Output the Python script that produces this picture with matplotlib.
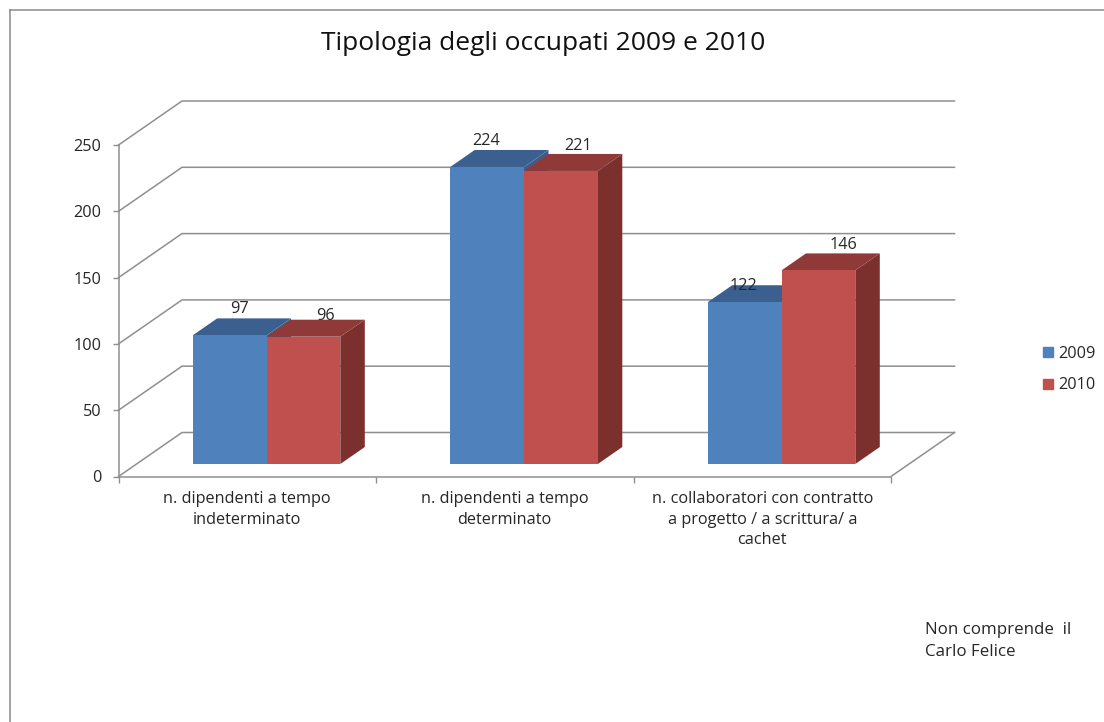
import matplotlib
matplotlib.use("Agg")
import matplotlib.pyplot as plt
from matplotlib.lines import Line2D
from matplotlib.patches import Polygon

plt.rcParams['font.family'] = ['Open Sans', 'DejaVu Sans']

categories = ["n. dipendenti a tempo\nindeterminato",
              "n. dipendenti a tempo\ndeterminato",
              "n. collaboratori con contratto\na progetto / a scrittura/ a\ncachet"]
values_2009 = [97, 224, 122]
values_2010 = [96, 221, 146]
series_names = ["2009", "2010"]
y_ticks = [0, 50, 100, 150, 200, 250]
title = "Tipologia degli occupati 2009 e 2010"
note = "Non comprende  il\nCarlo Felice"

W, H = 1104, 722
GRID = "#8f8f8f"
TEXT = "#262626"
SMALL = 11.7
front_colors = ["#4f81bd", "#c0504d"]
top_colors = ["#3b6090", "#8f3a38"]
side_colors = ["#3a5f8e", "#7b302e"]

fig = plt.figure(figsize=(W / 100, H / 100), dpi=100, facecolor="white")
left, right, top, bottom = 118.5, 891.0, 145.0, 476.5
ax = fig.add_axes([left / W, 1 - bottom / H, (right - left) / W, (bottom - top) / H])
ax.set_xlim(0, 3)
ax.set_ylim(0, 250)
ax.patch.set_visible(False)

px_x = 3 / (right - left)
px_y = 250 / (bottom - top)

# depth of the walls and of the bars, in pixels
wall_dx, wall_dy = 63.5 * px_x, 44.0 * px_y
bar_dx, bar_dy = 24.5 * px_x, 17.0 * px_y
bar_start, bar_w, bar_base = 74.2 * px_x, 73.8 * px_x, 12.5 * px_y

# walls
for t in y_ticks:
    ax.plot([0, wall_dx, 3 + wall_dx], [t, t + wall_dy, t + wall_dy],
            color=GRID, lw=1.1, clip_on=False, zorder=1)
ax.plot([3, 3 + wall_dx], [0, wall_dy], color=GRID, lw=1.1, clip_on=False, zorder=1)

# bars
label_offsets = [[(10, 26.5), (22, 20.5)], [(-1, 26), (17, 25)], [(-1, 16.5), (25, 25.5)]]
for s, vals in enumerate([values_2009, values_2010]):
    z = 3 + s
    for i, v in enumerate(vals):
        x0 = i + bar_start + s * bar_w
        x1 = x0 + bar_w
        y0 = bar_base
        y1 = bar_base + v
        ax.add_patch(Polygon([(x1, y0), (x1 + bar_dx, y0 + bar_dy), (x1 + bar_dx, y1 + bar_dy), (x1, y1)],
                             fc=side_colors[s], ec="none", clip_on=False, zorder=z))
        ax.add_patch(Polygon([(x0, y1), (x1, y1), (x1 + bar_dx, y1 + bar_dy), (x0 + bar_dx, y1 + bar_dy)],
                             fc=top_colors[s], ec="none", clip_on=False, zorder=z))
        ax.bar(x0, v, width=bar_w, bottom=y0, align="edge", color=front_colors[s],
               zorder=z, label=series_names[s] if i == 0 else None)
        ox, oy = label_offsets[i][s]
        ax.annotate(str(v), xy=((x0 + x1) / 2, y1), xytext=(ox * 0.72, oy * 0.72),
                    textcoords="offset points", ha="center", va="center",
                    fontsize=SMALL, color=TEXT, zorder=10, annotation_clip=False)

# axes
for k in ("top", "right"):
    ax.spines[k].set_visible(False)
for k in ("left", "bottom"):
    ax.spines[k].set_color(GRID)
    ax.spines[k].set_linewidth(1.1)
    ax.spines[k].set_zorder(2)
ax.set_yticks(y_ticks)
ax.tick_params(axis="y", colors=GRID, length=4.5, width=1, labelsize=SMALL,
               labelcolor=TEXT, pad=8)
ax.set_xticks([0, 1, 2, 3])
ax.set_xticklabels([])
ax.tick_params(axis="x", which="major", colors=GRID, length=4, width=1)
ax.set_xticks([0.5, 1.5, 2.5], minor=True)
ax.set_xticklabels(categories, minor=True, linespacing=1.38)
ax.tick_params(axis="x", which="minor", length=0, labelsize=SMALL, labelcolor=TEXT, pad=10.5)

# frame of the picture
frame_kw = dict(color="#8a8a8a", lw=1.1, transform=fig.transFigure)
fig.add_artist(Line2D([9.5 / W, 1], [1 - 9.5 / H] * 2, **frame_kw))
fig.add_artist(Line2D([9.5 / W] * 2, [0, 1 - 9.5 / H], **frame_kw))

fig.text(543.5 / W, 1 - 43 / H, title, ha="center", va="center", fontsize=19, color="#111111")
fig.text(925 / W, 1 - 640.5 / H, note, ha="left", va="center", fontsize=12.2,
         color=TEXT, linespacing=1.5)
fig.text(90 / W, 1 + 3.5 / H, "g", ha="center", va="baseline", fontsize=14, color="#111111")

handles = [Line2D([], [], ls="none", marker="s", ms=7.2, color=c) for c in front_colors]
fig.legend(handles, series_names, loc="center left", bbox_to_anchor=(1038 / W, 1 - 369.5 / H),
           frameon=False, fontsize=SMALL, labelcolor=TEXT, handletextpad=0.0, borderpad=0,
           handlelength=1.22, labelspacing=0.95, borderaxespad=0)

fig.savefig("out.png", dpi=100, facecolor="white")
